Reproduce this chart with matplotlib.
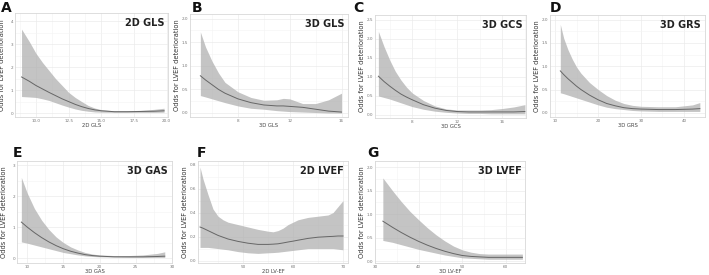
import numpy as np
import matplotlib
matplotlib.use("Agg")
from matplotlib import pyplot as plt
from matplotlib.ticker import AutoMinorLocator

# panel A - 2D GLS
a_x = [8.9, 9.5, 10, 10.5, 11, 11.5, 12, 12.5, 13, 13.5, 14, 14.5, 15, 16, 17, 18, 19, 19.8]
a_fit = [1.57, 1.38, 1.2, 1.05, 0.9, 0.76, 0.62, 0.5, 0.38, 0.28, 0.2, 0.14, 0.1, 0.06, 0.06, 0.07, 0.08, 0.1]
a_hi = [3.65, 3.1, 2.6, 2.2, 1.85, 1.5, 1.2, 0.9, 0.68, 0.5, 0.33, 0.22, 0.15, 0.1, 0.1, 0.12, 0.16, 0.21]
a_lo = [0.72, 0.7, 0.68, 0.62, 0.55, 0.45, 0.35, 0.26, 0.18, 0.12, 0.08, 0.05, 0.04, 0.03, 0.03, 0.03, 0.03, 0.04]

# panel B - 3D GLS
b_x = [5.1, 5.5, 6, 6.5, 7, 8, 9, 10, 11, 11.5, 12, 12.5, 13, 14, 15, 16]
b_fit = [0.79, 0.7, 0.6, 0.5, 0.42, 0.3, 0.22, 0.17, 0.15, 0.15, 0.14, 0.13, 0.12, 0.08, 0.04, 0.02]
b_hi = [1.72, 1.4, 1.1, 0.85, 0.65, 0.45, 0.33, 0.27, 0.28, 0.31, 0.3, 0.25, 0.2, 0.2, 0.28, 0.42]
b_lo = [0.37, 0.34, 0.3, 0.26, 0.22, 0.15, 0.1, 0.08, 0.05, 0.04, 0.03, 0.025, 0.02, 0.01, 0.0, 0.0]

# panel C - 3D GCS
c_x = [5, 5.5, 6, 6.5, 7, 7.5, 8, 9, 10, 11, 12, 13, 14, 15, 16, 17, 18]
c_fit = [1.02, 0.88, 0.76, 0.65, 0.55, 0.47, 0.4, 0.27, 0.18, 0.12, 0.09, 0.08, 0.08, 0.08, 0.08, 0.08, 0.09]
c_hi = [2.2, 1.8, 1.45, 1.15, 0.92, 0.73, 0.58, 0.38, 0.24, 0.16, 0.13, 0.13, 0.13, 0.14, 0.17, 0.21, 0.27]
c_lo = [0.5, 0.46, 0.42, 0.37, 0.32, 0.27, 0.22, 0.15, 0.1, 0.07, 0.05, 0.04, 0.04, 0.03, 0.03, 0.03, 0.03]

# panel D - 3D GRS
d_x = [11.2, 12, 13, 14, 15, 16, 18, 20, 22, 24, 26, 28, 30, 34, 38, 42, 43.7]
d_fit = [0.9, 0.82, 0.73, 0.65, 0.57, 0.5, 0.38, 0.28, 0.2, 0.15, 0.11, 0.09, 0.08, 0.07, 0.07, 0.08, 0.09]
d_hi = [1.9, 1.6, 1.35, 1.15, 0.98, 0.85, 0.65, 0.5, 0.37, 0.27, 0.2, 0.16, 0.14, 0.13, 0.13, 0.17, 0.22]
d_lo = [0.43, 0.41, 0.38, 0.35, 0.32, 0.29, 0.23, 0.17, 0.12, 0.09, 0.07, 0.05, 0.04, 0.03, 0.03, 0.03, 0.03]

# panel E - 3D GAS
e_x = [9.2, 10, 11, 12, 13, 14, 15, 16, 17, 18, 19, 20, 22, 24, 26, 28, 29]
e_fit = [1.16, 1.0, 0.82, 0.66, 0.52, 0.4, 0.3, 0.22, 0.16, 0.11, 0.08, 0.06, 0.04, 0.04, 0.04, 0.05, 0.06]
e_hi = [2.6, 2.1, 1.6, 1.22, 0.92, 0.68, 0.5, 0.36, 0.26, 0.18, 0.13, 0.1, 0.08, 0.08, 0.1, 0.15, 0.2]
e_lo = [0.52, 0.48, 0.42, 0.36, 0.3, 0.24, 0.18, 0.14, 0.1, 0.07, 0.05, 0.04, 0.03, 0.02, 0.02, 0.02, 0.02]

# panel F - 2D LVEF
f_x = [41.4, 42, 43, 44, 45, 46, 47, 49, 51, 53, 55, 56, 57, 58, 59, 60, 61, 63, 65, 67, 68, 69, 70]
f_fit = [0.28, 0.27, 0.25, 0.23, 0.21, 0.195, 0.18, 0.16, 0.145, 0.135, 0.135, 0.137, 0.14, 0.147, 0.155, 0.162, 0.17, 0.185, 0.195, 0.2, 0.202, 0.205, 0.205]
f_hi = [0.78, 0.68, 0.55, 0.43, 0.37, 0.34, 0.32, 0.3, 0.28, 0.26, 0.245, 0.24, 0.25, 0.27, 0.3, 0.32, 0.34, 0.36, 0.37, 0.38, 0.4, 0.45, 0.5]
f_lo = [0.11, 0.11, 0.11, 0.105, 0.1, 0.095, 0.09, 0.075, 0.065, 0.06, 0.065, 0.067, 0.07, 0.075, 0.08, 0.085, 0.09, 0.1, 0.1, 0.1, 0.1, 0.095, 0.09]

# panel G - 3D LVEF
g_x = [31.8, 34, 36, 38, 40, 42, 44, 46, 48, 50, 52, 54, 56, 58, 60, 62, 63.8]
g_fit = [0.85, 0.72, 0.61, 0.51, 0.42, 0.34, 0.27, 0.21, 0.16, 0.12, 0.1, 0.09, 0.08, 0.08, 0.08, 0.08, 0.08]
g_hi = [1.77, 1.5, 1.27, 1.06, 0.88, 0.71, 0.56, 0.43, 0.32, 0.24, 0.19, 0.16, 0.15, 0.15, 0.15, 0.15, 0.15]
g_lo = [0.44, 0.4, 0.35, 0.3, 0.25, 0.21, 0.17, 0.13, 0.1, 0.07, 0.06, 0.05, 0.04, 0.04, 0.04, 0.04, 0.04]

letters = ["A", "B", "C", "D", "E", "F", "G"]
titles = ["2D GLS", "3D GLS", "3D GCS", "3D GRS", "3D GAS", "2D LVEF", "3D LVEF"]
xlabels = ["2D GLS", "3D GLS", "3D GCS", "3D GRS", "3D GAS", "2D LV-EF", "3D LV-EF"]
xticks = [[10.0, 12.5, 15.0, 17.5, 20.0], [8, 12, 16], [8, 12, 16], [10, 20, 30, 40],
          [10, 15, 20, 25, 30], [50, 60, 70], [30, 40, 50, 60]]
yticks = [[0, 1, 2, 3, 4], [0.0, 0.5, 1.0, 1.5, 2.0], [0.0, 0.5, 1.0, 1.5, 2.0, 2.5],
          [0.0, 0.5, 1.0, 1.5, 2.0], [0, 1, 2, 3], [0.0, 0.2, 0.4, 0.6, 0.8],
          [0.0, 0.5, 1.0, 1.5, 2.0]]
xfmt = ["%.1f", "%d", "%d", "%d", "%d", "%d", "%d"]
yfmt = ["%d", "%.1f", "%.1f", "%.1f", "%d", "%.1f", "%.1f"]
xlims = [(8.4, 20.1), (4.3, 16.5), (4.7, 18.1), (8.8, 44.9), (8.6, 29.9), (41, 71), (30.7, 64.4)]
ylims = [(-0.17, 4.35), (-0.085, 2.1), (-0.08, 2.63), (-0.09, 2.1), (-0.16, 3.13), (-0.02, 0.83), (-0.04, 2.13)]

series = [(a_x, a_fit, a_lo, a_hi), (b_x, b_fit, b_lo, b_hi), (c_x, c_fit, c_lo, c_hi),
          (d_x, d_fit, d_lo, d_hi), (e_x, e_fit, e_lo, e_hi), (f_x, f_fit, f_lo, f_hi),
          (g_x, g_fit, g_lo, g_hi)]

# axes boxes in pixels: left, top, right, bottom
W, H = 709, 275
boxes = [(15, 13, 168, 117), (190, 14, 348, 117), (375, 15, 526, 118), (550, 15, 705, 117),
         (17, 161, 172, 263), (198, 161, 348, 263), (375, 161, 525, 263)]
letter_pos = [(1, 1), (192, 1), (353, 1), (550, 1), (13, 146), (197, 146), (367, 146)]

fig = plt.figure(figsize=(W / 100, H / 100), dpi=100)
fig.patch.set_facecolor("white")

for i in range(7):
    l, t, r, b = boxes[i]
    ax = fig.add_axes([l / W, 1 - b / H, (r - l) / W, (b - t) / H])
    x, fit, lo, hi = series[i]
    ax.fill_between(x, lo, hi, color="#b0b0b0", alpha=0.75, lw=0)
    ax.plot(x, fit, color="#666666", lw=0.7)
    ax.set_xlim(*xlims[i])
    ax.set_ylim(*ylims[i])
    ax.set_xticks(xticks[i])
    ax.set_xticklabels([xfmt[i] % v for v in xticks[i]])
    ax.set_yticks(yticks[i])
    ax.set_yticklabels([yfmt[i] % v for v in yticks[i]])
    ax.xaxis.set_minor_locator(AutoMinorLocator(2))
    ax.yaxis.set_minor_locator(AutoMinorLocator(2))
    ax.grid(which="major", color="#ebebeb", lw=0.5)
    ax.grid(which="minor", color="#f4f4f4", lw=0.4)
    ax.set_axisbelow(True)
    ax.tick_params(which="both", length=0, labelsize=3.0, labelcolor="#777777", pad=1.2)
    for s in ax.spines.values():
        s.set_color("#d8d8d8")
        s.set_linewidth(0.6)
    ax.set_xlabel(xlabels[i], fontsize=3.8, color="#444444")
    ax.set_ylabel("Odds for LVEF deterioration", fontsize=4.8, color="#333333")
    ax.yaxis.set_label_coords(-10 / (r - l), 0.5)
    ax.xaxis.set_label_coords(0.5, -6.3 / (b - t))
    ax.text(0.975, 0.9, titles[i], transform=ax.transAxes, ha="right", va="center",
            fontsize=7, fontweight="bold", color="#222222")
    lx, ly = letter_pos[i]
    fig.text(lx / W, 1 - ly / H, letters[i], ha="left", va="top",
             fontsize=10, fontweight="bold", color="#111111")

fig.savefig("out.png", dpi=100)
